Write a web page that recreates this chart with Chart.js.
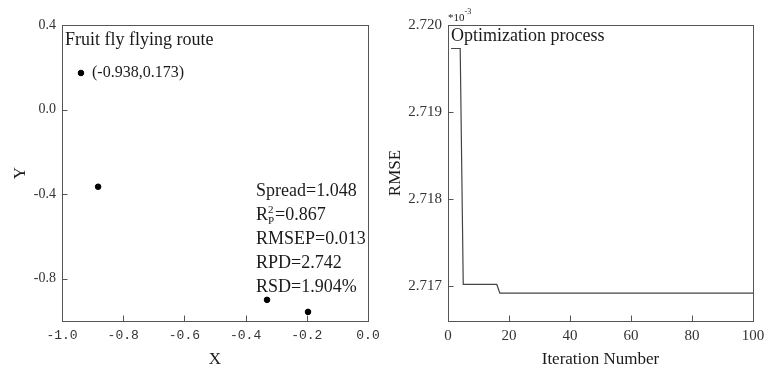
<!DOCTYPE html>
<html>
<head>
<meta charset="utf-8">
<script src="https://cdn.jsdelivr.net/npm/chart.js@4.4.0/dist/chart.umd.min.js"></script>
<style>
  html, body { margin: 0; padding: 0; background: #fff; }
  #wrap { position: relative; width: 764px; height: 372px; overflow: hidden; }
  #leftBox { position: absolute; left: 0; top: 0; }
  #rightBox { position: absolute; left: 382px; top: 0; }
</style>
</head>
<body>
<div id="wrap">
  <div id="leftBox"><canvas id="routeChart" width="390" height="372"></canvas></div>
  <div id="rightBox"><canvas id="rmseChart" width="394" height="372"></canvas></div>
</div>
<script>
// fruit fly route (left panel)
const routeX = [-0.938, -0.882, -0.330, -0.196];
const routeY = [0.173, -0.365, -0.900, -0.957];
const routeXTicks = [-1.0, -0.8, -0.6, -0.4, -0.2, 0.0];
const routeYTicks = [0.4, 0.0, -0.4, -0.8];
const statNames = ['Spread', 'R', 'RMSEP', 'RPD', 'RSD'];
const statValues = ['1.048', '0.867', '0.013', '2.742', '1.904%'];

// optimization process (right panel)
const iterX = [1, 4, 5, 16, 17, 100];
const rmseY = [2.71973, 2.71973, 2.71702, 2.71702, 2.71692, 2.71692];
const iterTicks = [0, 20, 40, 60, 80, 100];
const rmseTicks = [2.717, 2.718, 2.719, 2.720];

const SERIF = '"Liberation Serif", "Times New Roman", serif';
const INK = '#1a1a1a';

// box around the plot + inward tick marks
const frameTicks = {
    id: 'frameTicks',
    afterDatasetsDraw(chart) {
        const { ctx, chartArea: a, scales: { x, y } } = chart;
        const l = Math.round(a.left) + 0.5, r = Math.round(a.right) + 0.5;
        const t = Math.round(a.top) + 0.5, b = Math.round(a.bottom) + 0.5;
        ctx.save();
        ctx.strokeStyle = '#555';
        ctx.lineWidth = 1;
        ctx.strokeRect(l, t, r - l, b - t);
        ctx.beginPath();
        x.ticks.forEach(tk => {
            const px = Math.round(x.getPixelForValue(tk.value)) + 0.5;
            ctx.moveTo(px, b);
            ctx.lineTo(px, b - 6);
        });
        y.ticks.forEach(tk => {
            const py = Math.round(y.getPixelForValue(tk.value)) + 0.5;
            ctx.moveTo(l, py);
            ctx.lineTo(l + 5, py);
        });
        ctx.stroke();
        ctx.restore();
    }
};

const routeNotes = {
    id: 'routeNotes',
    afterDraw(chart) {
        const { ctx, chartArea: a, scales: { x, y } } = chart;
        ctx.save();
        ctx.fillStyle = INK;
        ctx.textAlign = 'left';
        ctx.textBaseline = 'middle';
        ctx.font = '18px ' + SERIF;
        ctx.fillText('Fruit fly flying route', a.left + 3, a.top + 15);

        ctx.font = '16px ' + SERIF;
        ctx.fillText('(' + routeX[0] + ',' + routeY[0] + ')',
            x.getPixelForValue(routeX[0]) + 11, y.getPixelForValue(routeY[0]));

        const sx = a.left + 194;
        statNames.forEach((name, i) => {
            const cy = a.top + 166 + i * 24;
            ctx.font = '18px ' + SERIF;
            if (name === 'R') {
                ctx.fillText('R', sx, cy);
                const w = ctx.measureText('R').width;
                ctx.font = '11px ' + SERIF;
                ctx.fillText('2', sx + w, cy - 5);
                ctx.fillText('P', sx + w, cy + 6);
                ctx.font = '18px ' + SERIF;
                ctx.fillText('=' + statValues[i], sx + w + 7, cy);
            } else {
                ctx.fillText(name + '=' + statValues[i], sx, cy);
            }
        });
        ctx.restore();
    }
};

const rmseNotes = {
    id: 'rmseNotes',
    afterDraw(chart) {
        const { ctx, chartArea: a } = chart;
        ctx.save();
        ctx.fillStyle = INK;
        ctx.textAlign = 'left';
        ctx.textBaseline = 'middle';
        ctx.font = '18px ' + SERIF;
        ctx.fillText('Optimization process', a.left + 3, a.top + 11);
        ctx.font = '11px ' + SERIF;
        ctx.fillText('*10', a.left, a.top - 7);
        const w = ctx.measureText('*10').width;
        ctx.font = '8px ' + SERIF;
        ctx.fillText('-3', a.left + w, a.top - 13);
        ctx.restore();
    }
};

function axisTitle(text, pad) {
    return { display: true, text: text, color: INK, font: { family: SERIF, size: 17 }, padding: pad };
}

new Chart(document.getElementById('routeChart'), {
    type: 'scatter',
    data: {
        datasets: [{
            data: routeX.map((v, i) => ({ x: v, y: routeY[i] })),
            backgroundColor: '#000',
            borderColor: '#000',
            pointRadius: 2.8,
            pointHoverRadius: 2.8
        }]
    },
    options: {
        responsive: false,
        animation: false,
        layout: { padding: { left: 0, right: 22, top: 25, bottom: 0 } },
        plugins: { legend: { display: false }, tooltip: { enabled: false } },
        scales: {
            x: {
                type: 'linear', min: -1.0, max: 0.0,
                grid: { display: false, drawTicks: false },
                border: { display: false },
                afterBuildTicks: s => { s.ticks = routeXTicks.map(v => ({ value: v })); },
                afterFit: s => { s.height = 51; },
                ticks: {
                    padding: 7, maxRotation: 0, autoSkip: false, color: '#333',
                    font: { family: '"Liberation Mono", monospace', size: 13 },
                    callback: v => v.toFixed(1)
                },
                title: axisTitle('X', { top: 0, bottom: 2 })
            },
            y: {
                type: 'linear', min: -1.0, max: 0.4,
                grid: { display: false, drawTicks: false },
                border: { display: false },
                afterBuildTicks: s => { s.ticks = routeYTicks.map(v => ({ value: v })); },
                afterFit: s => { s.width = 62; },
                ticks: {
                    padding: 6, color: '#333',
                    font: { family: SERIF, size: 14 },
                    callback: v => v.toFixed(1)
                },
                title: axisTitle('Y', { top: 10, bottom: 0 })
            }
        }
    },
    plugins: [frameTicks, routeNotes]
});

new Chart(document.getElementById('rmseChart'), {
    type: 'line',
    data: {
        datasets: [{
            data: iterX.map((v, i) => ({ x: v, y: rmseY[i] })),
            borderColor: '#444',
            borderWidth: 1.2,
            pointRadius: 0,
            tension: 0,
            fill: false
        }]
    },
    options: {
        responsive: false,
        animation: false,
        layout: { padding: { left: 0, right: 23, top: 25, bottom: 0 } },
        plugins: { legend: { display: false }, tooltip: { enabled: false } },
        scales: {
            x: {
                type: 'linear', min: 0, max: 100,
                grid: { display: false, drawTicks: false },
                border: { display: false },
                afterBuildTicks: s => { s.ticks = iterTicks.map(v => ({ value: v })); },
                afterFit: s => { s.height = 51; },
                ticks: {
                    padding: 6, maxRotation: 0, autoSkip: false, color: '#333',
                    font: { family: SERIF, size: 15 }
                },
                title: axisTitle('Iteration Number', { top: 0, bottom: 2 })
            },
            y: {
                type: 'linear', min: 2.7166, max: 2.720,
                grid: { display: false, drawTicks: false },
                border: { display: false },
                afterBuildTicks: s => { s.ticks = rmseTicks.map(v => ({ value: v })); },
                afterFit: s => { s.width = 66; },
                ticks: {
                    padding: 6, color: '#333',
                    font: { family: SERIF, size: 15 },
                    callback: v => v.toFixed(3)
                },
                title: axisTitle('RMSE', { top: 3, bottom: 0 })
            }
        }
    },
    plugins: [frameTicks, rmseNotes]
});
</script>
</body>
</html>
